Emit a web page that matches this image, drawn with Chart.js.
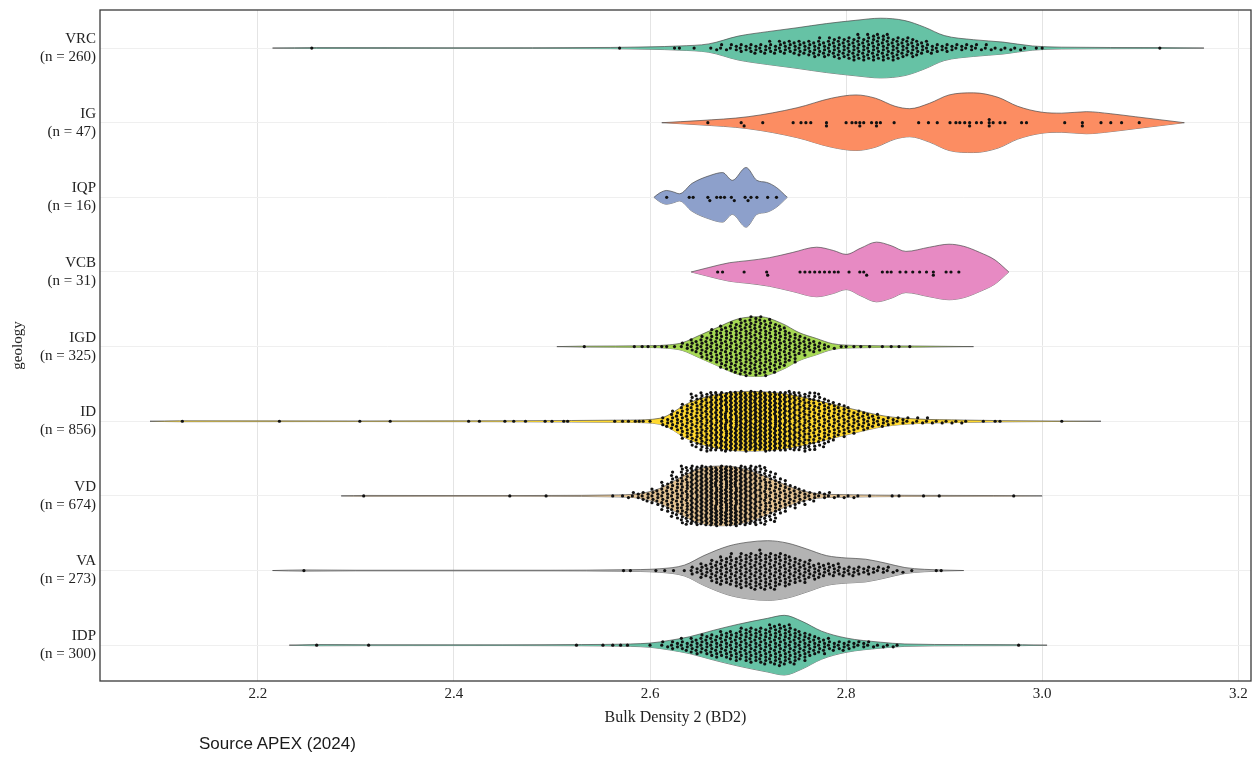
<!DOCTYPE html>
<html>
<head>
<meta charset="utf-8">
<script src="https://cdn.jsdelivr.net/npm/chart.js@4.4.1/dist/chart.umd.min.js"></script>
<style>
  html, body { margin: 0; padding: 0; background: #fff; }
  #wrap { position: relative; width: 1255px; height: 757px; }
  #source { position: absolute; left: 199px; top: 734px; font: 17px "Liberation Sans", Arial, sans-serif; color: #1a1a1a; }
</style>
</head>
<body>
<div id="wrap">
  <canvas id="chart" width="1255" height="757"></canvas>
  <div id="source">Source APEX (2024)</div>
</div>
<script>
// Geology groups, top to bottom
const categories = ['VRC', 'IG', 'IQP', 'VCB', 'IGD', 'ID', 'VD', 'VA', 'IDP'];
const sampleSizes = [260, 47, 16, 31, 325, 856, 674, 273, 300];
const xTicks = [2.2, 2.4, 2.6, 2.8, 3.0, 3.2];
const fillColors = ['#66c2a5', '#fc8d62', '#8da0cb', '#e78ac3', '#a6d854', '#ffd92f', '#e5c494', '#b3b3b3', '#66c2a5'];

// Density outlines: [BD2, relative half-width]
const vrcDensity = [[2.215,0],[2.26,0.015],[2.40,0.01],[2.56,0.02],[2.60,0.04],[2.63,0.07],[2.66,0.14],[2.69,0.40],[2.72,0.55],[2.75,0.68],[2.78,0.82],[2.81,0.93],[2.835,1.0],[2.86,0.92],[2.88,0.7],[2.90,0.42],[2.93,0.28],[2.96,0.2],[2.99,0.07],[3.02,0.03],[3.12,0.015],[3.165,0]];
const igDensity = [[2.612,0],[2.65,0.07],[2.70,0.2],[2.75,0.5],[2.785,0.82],[2.81,0.93],[2.83,0.82],[2.85,0.55],[2.865,0.47],[2.885,0.65],[2.905,0.93],[2.93,1.0],[2.955,0.85],[2.975,0.55],[3.0,0.35],[3.02,0.32],[3.045,0.37],[3.07,0.3],[3.095,0.2],[3.12,0.1],[3.145,0]];
const iqpDensity = [[2.604,0],[2.61,0.15],[2.617,0.23],[2.624,0.18],[2.630,0.12],[2.643,0.47],[2.661,0.73],[2.674,0.83],[2.684,0.57],[2.698,1.0],[2.709,0.57],[2.719,0.5],[2.729,0.33],[2.74,0]];
const vcbDensity = [[2.642,0],[2.66,0.15],[2.681,0.31],[2.70,0.38],[2.722,0.48],[2.745,0.65],[2.77,0.83],[2.787,0.72],[2.80,0.59],[2.815,0.8],[2.831,1.0],[2.846,0.88],[2.861,0.69],[2.885,0.83],[2.905,0.93],[2.92,0.86],[2.936,0.66],[2.952,0.4],[2.966,0]];
const igdDensity = [[2.505,0],[2.53,0.015],[2.60,0.03],[2.62,0.06],[2.633,0.13],[2.65,0.37],[2.668,0.63],[2.69,0.93],[2.712,1.0],[2.735,0.77],[2.752,0.47],[2.77,0.27],[2.786,0.1],[2.81,0.04],[2.87,0.02],[2.93,0]];
const idDensity = [[2.09,0],[2.12,0.015],[2.30,0.01],[2.45,0.015],[2.52,0.025],[2.58,0.04],[2.61,0.1],[2.64,0.62],[2.665,0.88],[2.70,1.0],[2.735,0.93],[2.77,0.7],[2.805,0.42],[2.84,0.17],[2.87,0.08],[2.92,0.04],[2.96,0.02],[3.06,0]];
const vdDensity = [[2.285,0],[2.31,0.015],[2.45,0.01],[2.50,0.015],[2.56,0.03],[2.59,0.08],[2.61,0.25],[2.63,0.6],[2.65,0.9],[2.67,1.0],[2.69,0.95],[2.71,0.75],[2.73,0.48],[2.75,0.22],[2.77,0.08],[2.80,0.04],[2.86,0.02],[2.95,0.012],[3.0,0]];
const vaDensity = [[2.215,0],[2.247,0.02],[2.30,0.01],[2.50,0.01],[2.57,0.025],[2.61,0.06],[2.635,0.18],[2.655,0.5],[2.68,0.82],[2.70,0.95],[2.72,1.0],[2.74,0.92],[2.76,0.72],[2.78,0.5],[2.80,0.42],[2.82,0.38],[2.84,0.25],[2.86,0.1],[2.88,0.04],[2.92,0]];
const idpDensity = [[2.232,0],[2.26,0.02],[2.31,0.015],[2.45,0.012],[2.53,0.02],[2.58,0.04],[2.60,0.07],[2.62,0.16],[2.64,0.28],[2.665,0.5],[2.69,0.7],[2.72,0.9],[2.737,1.0],[2.755,0.8],[2.775,0.47],[2.80,0.24],[2.835,0.1],[2.86,0.04],[2.92,0.02],[2.98,0.015],[3.005,0]];

// Individual measurements (sparse parts of each group)
const vrcSingles = [2.255, 2.569, 2.625, 2.63, 2.645, 2.994, 3.0, 3.12];
const igSingles = [2.659, 2.693, 2.696, 2.715, 2.746, 2.754, 2.759, 2.764, 2.78, 2.78, 2.80, 2.806, 2.81, 2.814, 2.814, 2.818, 2.826, 2.831, 2.831, 2.835, 2.849, 2.874, 2.884, 2.893, 2.906, 2.912, 2.916, 2.921, 2.926, 2.926, 2.933, 2.938, 2.946, 2.946, 2.946, 2.95, 2.957, 2.962, 2.979, 2.984, 3.023, 3.041, 3.041, 3.06, 3.07, 3.081, 3.099];
const iqpSingles = [2.617, 2.640, 2.644, 2.659, 2.661, 2.668, 2.672, 2.676, 2.683, 2.686, 2.697, 2.700, 2.703, 2.709, 2.720, 2.729];
const vcbSingles = [2.669, 2.674, 2.696, 2.719, 2.720, 2.753, 2.758, 2.763, 2.768, 2.773, 2.778, 2.783, 2.788, 2.792, 2.803, 2.814, 2.818, 2.821, 2.837, 2.842, 2.846, 2.855, 2.861, 2.868, 2.875, 2.882, 2.889, 2.889, 2.902, 2.907, 2.915];
const igdSingles = [2.533, 2.584, 2.592, 2.598, 2.605, 2.612, 2.617, 2.625, 2.795, 2.80, 2.808, 2.815, 2.824, 2.837, 2.846, 2.854, 2.865];
const idSingles = [2.123, 2.222, 2.304, 2.335, 2.415, 2.426, 2.452, 2.461, 2.473, 2.493, 2.50, 2.512, 2.516, 2.564, 2.572, 2.578, 2.585, 2.589, 2.593, 2.60, 2.94, 2.952, 2.957, 3.02];
const vdSingles = [2.308, 2.457, 2.494, 2.562, 2.824, 2.847, 2.854, 2.879, 2.895, 2.971];
const vaSingles = [2.247, 2.573, 2.58, 2.606, 2.615, 2.624, 2.635, 2.867, 2.892, 2.897];
const idpSingles = [2.26, 2.313, 2.525, 2.552, 2.562, 2.57, 2.577, 2.60, 2.976];

// Dense cores: number of measurements per 0.01 bin, from the given start value
const vrcBinStart = 2.66;
const vrcBinCounts = [2,3,4,5,6,6,7,8,8,9,10,11,12,13,14,15,16,16,15,13,12,9,7,5,5,4,4,3,3,2,2,2,1];
const igdBinStart = 2.63;
const igdBinCounts = [4,8,14,20,26,30,34,36,35,31,25,18,12,8,5,2];
const idBinStart = 2.61;
const idBinCounts = [6,12,21,32,42,49,54,57,59,60,59,57,53,48,42,37,31,25,20,15,12,9,7,5,4,3,3,3,2,2,2,1];
const vdBinStart = 2.57;
const vdBinCounts = [2,4,6,10,18,27,40,52,60,66,68,66,60,52,40,30,21,14,10,6,4,3,2,2,1];
const vaBinStart = 2.64;
const vaBinCounts = [5,9,14,17,19,21,22,23,22,20,17,14,11,9,8,7,6,5,5,4,3,2];
const idpBinStart = 2.61;
const idpBinCounts = [3,5,7,10,12,14,16,18,20,21,22,24,25,23,18,13,10,7,6,5,4,3,2,2,1];

const groups = [
  { density: vrcDensity, singles: vrcSingles, binStart: vrcBinStart, bins: vrcBinCounts },
  { density: igDensity,  singles: igSingles,  binStart: 0, bins: [] },
  { density: iqpDensity, singles: iqpSingles, binStart: 0, bins: [] },
  { density: vcbDensity, singles: vcbSingles, binStart: 0, bins: [] },
  { density: igdDensity, singles: igdSingles, binStart: igdBinStart, bins: igdBinCounts },
  { density: idDensity,  singles: idSingles,  binStart: idBinStart, bins: idBinCounts },
  { density: vdDensity,  singles: vdSingles,  binStart: vdBinStart, bins: vdBinCounts },
  { density: vaDensity,  singles: vaSingles,  binStart: vaBinStart, bins: vaBinCounts },
  { density: idpDensity, singles: idpSingles, binStart: idpBinStart, bins: idpBinCounts }
];

// Swarm layout helpers (approximate pixel scale used only for dot spacing)
const PX_PER_X = 980;
const PX_PER_ROW = 74.6;
const HALF = 0.4;                  // violin half-height in row units
const DOT_STEP = 3.4 / PX_PER_ROW; // vertical spacing of stacked dots
const BIN = 0.01;
const SUBCOLS = 2;
const WIGGLE = 0.5 / PX_PER_X;     // small zigzag so stacked dots do not form rigid columns

function swarmSingles(row, values) {
  const placed = [];
  values.slice().sort((a, b) => a - b).forEach(v => {
    const px = v * PX_PER_X;
    let k = 0, off = 0;
    while (true) {
      off = k === 0 ? 0 : (k % 2 ? 1 : -1) * Math.ceil(k / 2) * 3.2;
      const hit = placed.some(p => Math.hypot(p.px - px, p.py - off) < 3.0);
      if (!hit) break;
      k++;
    }
    placed.push({ px, py: off });
  });
  return placed.map(p => ({ x: p.px / PX_PER_X, y: row + p.py / PX_PER_ROW }));
}

function swarmBins(row, start, counts) {
  const pts = [];
  counts.forEach((c, b) => {
    for (let j = 0; j < SUBCOLS; j++) {
      const k = Math.floor(c / SUBCOLS) + (j < c % SUBCOLS ? 1 : 0);
      if (!k) continue;
      const x = start + b * BIN + (j + 0.5) * BIN / SUBCOLS;
      let step = DOT_STEP;
      if ((k / 2) * step > HALF) step = HALF * 2 / k;
      const shift = j % 2 ? step / 2 : 0;
      for (let n = 0; n < k; n++) {
        const m = Math.ceil(n / 2);
        const sign = n % 2 ? -1 : 1;
        const off = shift ? sign * (shift + Math.floor(n / 2) * step) : (n === 0 ? 0 : sign * m * step);
        const wig = (Math.round(Math.abs(off) / step) % 2 ? 1 : -1) * WIGGLE;
        pts.push({ x: x + wig, y: row + off });
      }
    }
  });
  return pts;
}

const OUTLINE = 'rgba(70,70,70,0.85)';
const datasets = [];
groups.forEach((g, i) => {
  datasets.push({
    data: g.density.map(([x, w]) => ({ x, y: i - HALF * w })),
    fill: '+1', backgroundColor: fillColors[i], borderColor: OUTLINE, borderWidth: 0.8,
    pointRadius: 0, pointHoverRadius: 0, cubicInterpolationMode: 'monotone', order: 3
  });
  datasets.push({
    data: g.density.map(([x, w]) => ({ x, y: i + HALF * w })),
    fill: false, borderColor: OUTLINE, borderWidth: 0.8,
    pointRadius: 0, pointHoverRadius: 0, cubicInterpolationMode: 'monotone', order: 3
  });
});
groups.forEach((g, i) => {
  const pts = swarmSingles(i, g.singles).concat(swarmBins(i, g.binStart, g.bins));
  datasets.push({
    data: pts, showLine: false, pointRadius: 1.6, pointHoverRadius: 1.6,
    pointBackgroundColor: '#111', pointBorderWidth: 0, order: 1
  });
});

const framePlugin = {
  id: 'frame',
  afterDatasetsDraw(chart) {
    const { ctx, chartArea: a } = chart;
    ctx.save();
    ctx.strokeStyle = '#3a3a3a';
    ctx.lineWidth = 1.3;
    ctx.strokeRect(a.left, a.top, a.right - a.left, a.bottom - a.top);
    ctx.restore();
  }
};

const SERIF = '"Liberation Serif", "Times New Roman", serif';

new Chart(document.getElementById('chart'), {
  type: 'line',
  data: { datasets },
  options: {
    responsive: false,
    animation: false,
    events: [],
    layout: { padding: { top: 10, right: 4, left: 0, bottom: 0 } },
    plugins: { legend: { display: false }, tooltip: { enabled: false } },
    scales: {
      x: {
        type: 'linear', min: 2.039, max: 3.213,
        afterBuildTicks: s => { s.ticks = xTicks.map(v => ({ value: v })); },
        afterFit: s => { s.height = 76; s.paddingLeft = 0; s.paddingRight = 0; },
        ticks: { callback: v => Number(v).toFixed(1), font: { family: SERIF, size: 15 }, color: '#222', padding: 4, maxRotation: 0 },
        grid: { color: '#e4e4e4', lineWidth: 1, drawTicks: false },
        border: { display: false },
        title: { display: true, text: 'Bulk Density 2 (BD2)', font: { family: SERIF, size: 16 }, color: '#222', padding: { top: 0, bottom: 30 } }
      },
      y: {
        type: 'linear', min: -0.51, max: 8.48, reverse: true,
        afterBuildTicks: s => { s.ticks = categories.map((_, i) => ({ value: i })); },
        afterFit: s => { s.width = 100; s.paddingTop = 0; s.paddingBottom = 0; },
        ticks: {
          autoSkip: false,
          callback: v => [categories[v], '(n = ' + sampleSizes[v] + ')'],
          font: { family: SERIF, size: 15, lineHeight: 1.2 }, color: '#222', padding: 4
        },
        grid: { color: '#efefef', lineWidth: 1, drawTicks: false },
        border: { display: false },
        title: { display: true, text: 'geology', font: { family: SERIF, size: 15 }, color: '#222', padding: { top: 9 } }
      }
    }
  },
  plugins: [framePlugin]
});
</script>
</body>
</html>
